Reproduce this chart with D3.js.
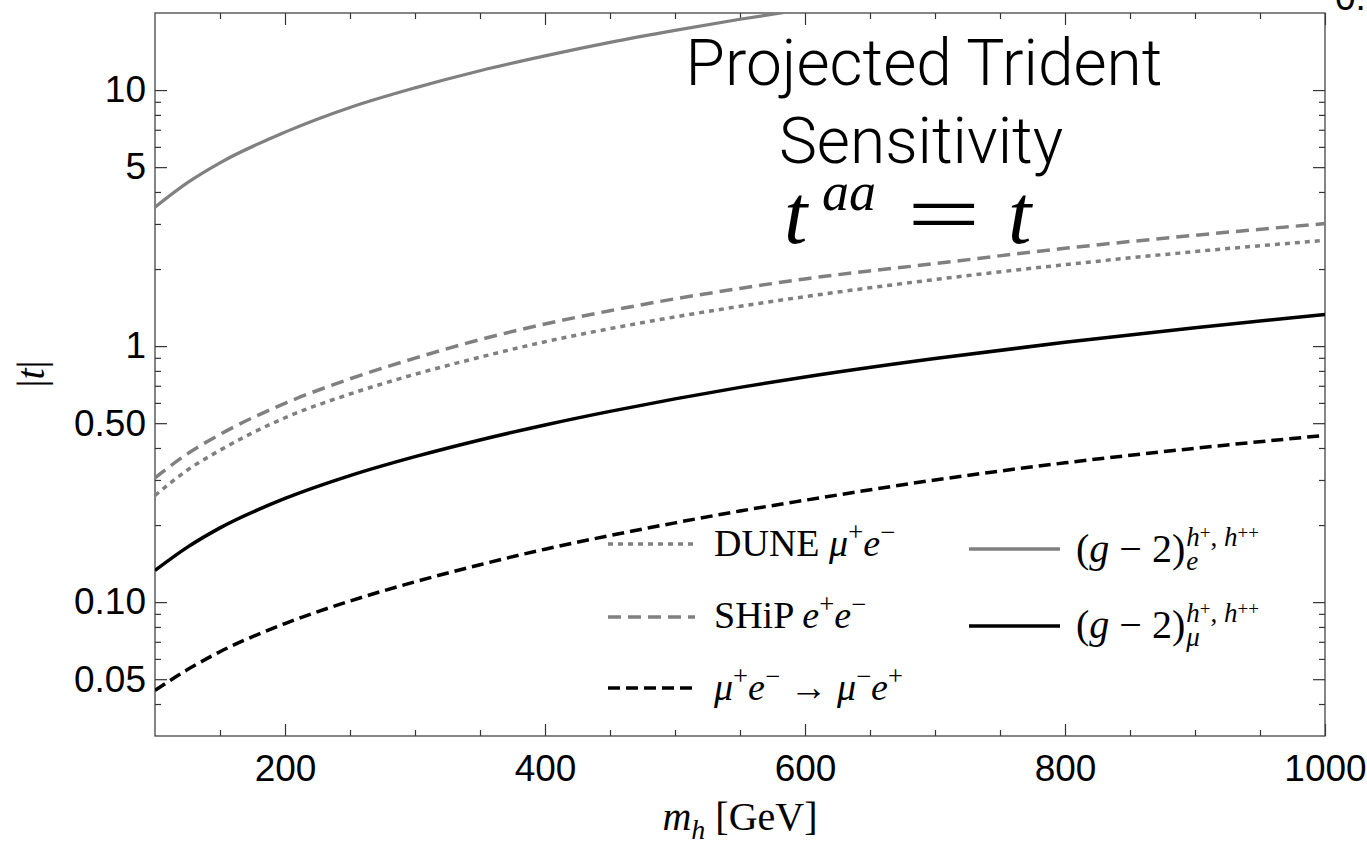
<!DOCTYPE html>
<html><head><meta charset="utf-8">
<script src="https://cdn.jsdelivr.net/npm/d3@7"></script>
<style>body{margin:0;background:#fff} svg{display:block}</style>
</head><body>
<svg id="chart" width="1367" height="848"></svg>
<script>
// ---------------- data ----------------
const massGrid   = [100,125,150,200,250,300,350,400,450,500,550,600,700,800,900,1000];
const duneMuE    = [0.261,0.328,0.392,0.525,0.650,0.776,0.905,1.04,1.17,1.30,1.43,1.56,1.82,2.08,2.34,2.59];
const shipEE     = [0.306,0.380,0.452,0.598,0.745,0.897,1.06,1.22,1.375,1.53,1.68,1.83,2.10,2.41,2.71,3.01];
const muoniumConv= [0.0452,0.0545,0.064,0.0825,0.101,0.120,0.140,0.161,0.182,0.204,0.227,0.250,0.300,0.350,0.399,0.448];
const g2Mu       = [0.133,0.164,0.195,0.254,0.312,0.370,0.430,0.492,0.556,0.622,0.690,0.758,0.895,1.035,1.18,1.33];
const g2EMass    = [100,125,150,200,250,300,350,400,450,500,550,600];
const g2E        = [3.49,4.35,5.2,6.85,8.55,10.2,11.9,13.6,15.35,17.1,18.9,20.7];

const xMajorTicks = [200,400,600,800,1000];
const xTickLabels = ["200","400","600","800","1000"];
const yMajorTicks = [0.05,0.1,0.5,1,5,10];
const yTickLabels = ["0.05","0.10","0.50","1","5","10"];

// ---------------- layout ----------------
const svg = d3.select('#chart');
const L = 155, R = 1325, T = 13, B = 736;
const x = d3.scaleLinear().domain([100,1000]).range([L,R]);
const y = d3.scaleLog().domain([0.03,20]).range([B,T]);
const GRAY = '#808080';
const SANS = '"Liberation Sans", Arial, Helvetica, sans-serif';
const SERIF = '"Liberation Serif", "DejaVu Serif", "Times New Roman", serif';

const xMinor = d3.range(150,1000,50).filter(v => !xMajorTicks.includes(v));
const yMinor = [];
[0.01,0.1,1,10].forEach(d => { for (let k=2;k<=9;k++){ const v=+(k*d).toPrecision(3); if (v>0.03 && v<20 && !yMajorTicks.includes(v)) yMinor.push(v);} });

// clip
svg.append('defs').append('clipPath').attr('id','plotclip')
  .append('rect').attr('x',L).attr('y',T).attr('width',R-L).attr('height',B-T);

function styleAxis(g){
  g.select('.domain').remove();
  g.selectAll('line').attr('stroke','#333').attr('stroke-width',1.2);
  g.selectAll('text').attr('font-family',SANS).attr('font-size',37).attr('fill','#000');
}
// bottom
svg.append('g').attr('transform',`translate(0,${B})`)
  .call(d3.axisBottom(x).tickValues(xMajorTicks).tickSize(-12).tickPadding(19)
        .tickFormat((d,i)=>xTickLabels[i])).call(styleAxis);
svg.append('g').attr('transform',`translate(0,${B})`)
  .call(d3.axisBottom(x).tickValues(xMinor).tickSize(-6).tickFormat('')).call(styleAxis);
// top
svg.append('g').attr('transform',`translate(0,${T})`)
  .call(d3.axisTop(x).tickValues(xMajorTicks).tickSize(-12).tickFormat('')).call(styleAxis);
svg.append('g').attr('transform',`translate(0,${T})`)
  .call(d3.axisTop(x).tickValues(xMinor).tickSize(-6).tickFormat('')).call(styleAxis);
// left
svg.append('g').attr('transform',`translate(${L},0)`)
  .call(d3.axisLeft(y).tickValues(yMajorTicks).tickSize(-12).tickPadding(9)
        .tickFormat((d,i)=>yTickLabels[i])).call(styleAxis);
svg.append('g').attr('transform',`translate(${L},0)`)
  .call(d3.axisLeft(y).tickValues(yMinor).tickSize(-6).tickFormat('')).call(styleAxis);
// right
svg.append('g').attr('transform',`translate(${R},0)`)
  .call(d3.axisRight(y).tickValues(yMajorTicks).tickSize(-12).tickFormat('')).call(styleAxis);
svg.append('g').attr('transform',`translate(${R},0)`)
  .call(d3.axisRight(y).tickValues(yMinor).tickSize(-6).tickFormat('')).call(styleAxis);

// frame
svg.append('rect').attr('x',L).attr('y',T).attr('width',R-L).attr('height',B-T)
  .attr('fill','none').attr('stroke','#444').attr('stroke-width',1.3);

// ---------------- curves ----------------
const line = d3.line().x(d=>x(d[0])).y(d=>y(d[1])).curve(d3.curveMonotoneX);
const series = [
  {m: massGrid, v: duneMuE,     color: GRAY,   dash: '5,5',  w: 3.5},
  {m: massGrid, v: shipEE,      color: GRAY,   dash: '13,7', w: 3.5},
  {m: massGrid, v: muoniumConv, color: '#000', dash: '12,6', w: 3.5},
  {m: g2EMass,  v: g2E,         color: GRAY,   dash: null,   w: 3.2},
  {m: massGrid, v: g2Mu,        color: '#000', dash: null,   w: 3.5}
];
const plot = svg.append('g').attr('clip-path','url(#plotclip)');
series.forEach(s => {
  plot.append('path').datum(s.m.map((m,i)=>[m,s.v[i]]))
    .attr('d',line).attr('fill','none').attr('stroke',s.color)
    .attr('stroke-width',s.w).attr('stroke-dasharray',s.dash);
});

// ---------------- rich text helper ----------------
function rich(x0, y0, parts, size){
  const t = svg.append('text').attr('x',x0).attr('y',y0)
    .attr('font-family',SERIF).attr('font-size',size).attr('fill','#000');
  let cur = 0;
  parts.forEach(p => {
    const ts = t.append('tspan').text(p.t);
    if (p.i) ts.attr('font-style','italic');
    const target = p.s==='sup' ? -0.40*size : p.s==='sub' ? 0.22*size : 0;
    ts.attr('dy', target-cur); cur = target;
    if (p.s==='sup' || p.s==='sub') ts.attr('font-size', size*0.7);
  });
  return t;
}

// ---------------- legend ----------------
const legendCol1 = [
  {y:544, tb:556, color:GRAY, dash:'5,5',
   parts:[{t:'DUNE '},{t:'μ',i:1},{t:'+',s:'sup'},{t:'e',i:1},{t:'−',s:'sup'}]},
  {y:617, tb:628, color:GRAY, dash:'13,7',
   parts:[{t:'SHiP '},{t:'e',i:1},{t:'+',s:'sup'},{t:'e',i:1},{t:'−',s:'sup'}]},
  {y:688, tb:700, color:'#000', dash:'12,6',
   parts:[{t:'μ',i:1},{t:'+',s:'sup'},{t:'e',i:1},{t:'−',s:'sup'},{t:' → '},{t:'μ',i:1},{t:'−',s:'sup'},{t:'e',i:1},{t:'+',s:'sup'}]}
];
legendCol1.forEach(e => {
  svg.append('line').attr('x1',608).attr('x2',695).attr('y1',e.y).attr('y2',e.y)
    .attr('stroke',e.color).attr('stroke-width',3.5).attr('stroke-dasharray',e.dash);
  rich(714, e.tb, e.parts, 38);
});
const legendCol2 = [
  {y:549, tb:562, color:GRAY, sub:'e'},
  {y:626, tb:638, color:'#000', sub:'μ'}
];
legendCol2.forEach(e => {
  svg.append('line').attr('x1',969).attr('x2',1060).attr('y1',e.y).attr('y2',e.y)
    .attr('stroke',e.color).attr('stroke-width',3.5);
  const base = rich(1076, e.tb, [{t:'('},{t:'g',i:1},{t:' − 2)'}], 40);
  const w = base.node().getComputedTextLength();
  const sx = 1076 + w + 1;
  const st = svg.append('text').attr('font-family',SERIF).attr('font-size',27).attr('fill','#000');
  st.append('tspan').attr('x',sx).attr('y',e.tb-16).attr('font-style','italic').text('h');
  st.append('tspan').attr('dy',-7).attr('font-size',19).text('+');
  st.append('tspan').attr('dy',7).text(', ');
  st.append('tspan').attr('font-style','italic').text('h');
  st.append('tspan').attr('dy',-7).attr('font-size',19).text('++');
  st.append('tspan').attr('x',sx).attr('y',e.tb+8).attr('font-style','italic').text(e.sub);
});

// ---------------- annotation ----------------
const TITLEF = 'Roboto, "Open Sans", sans-serif';
svg.append('text').attr('x',924).attr('y',85).attr('text-anchor','middle')
  .attr('font-family',TITLEF).attr('font-weight',300)
  .attr('font-size',64).text('Projected Trident');
svg.append('text').attr('x',921).attr('y',163).attr('text-anchor','middle')
  .attr('font-family',TITLEF).attr('font-weight',300)
  .attr('font-size',64).text('Sensitivity');
const fs = 84;
svg.append('text').attr('x',784).attr('y',243).attr('font-family',SERIF)
  .attr('font-size',fs).attr('font-style','italic').text('t');
svg.append('text').attr('x',822).attr('y',210).attr('font-family',SERIF)
  .attr('font-size',54).attr('font-style','italic').text('aa');
svg.append('text').attr('transform','translate(907,243) scale(1.55,1)')
  .attr('font-family',SERIF).attr('font-size',fs).text('=');
svg.append('text').attr('x',1008).attr('y',243).attr('font-family',SERIF)
  .attr('font-size',fs).attr('font-style','italic').text('t');

// ---------------- axis titles ----------------
const yt = svg.append('text').attr('transform','translate(44,374) rotate(-90)')
  .attr('text-anchor','middle').attr('font-family',SERIF).attr('font-size',40);
yt.append('tspan').text('|');
yt.append('tspan').attr('font-style','italic').text('t');
yt.append('tspan').text('|');

const xt = rich(0, 830, [{t:'m',i:1},{t:'h',i:1,s:'sub'},{t:' [GeV]'}], 40);
const xtw = xt.node().getComputedTextLength();
xt.attr('x', (L+R)/2 - xtw/2);

// cut-off neighbour label at top right
svg.append('text').attr('x',1335).attr('y',10).attr('font-family',SANS)
  .attr('font-size',37).text('0.');
</script>
</body></html>
